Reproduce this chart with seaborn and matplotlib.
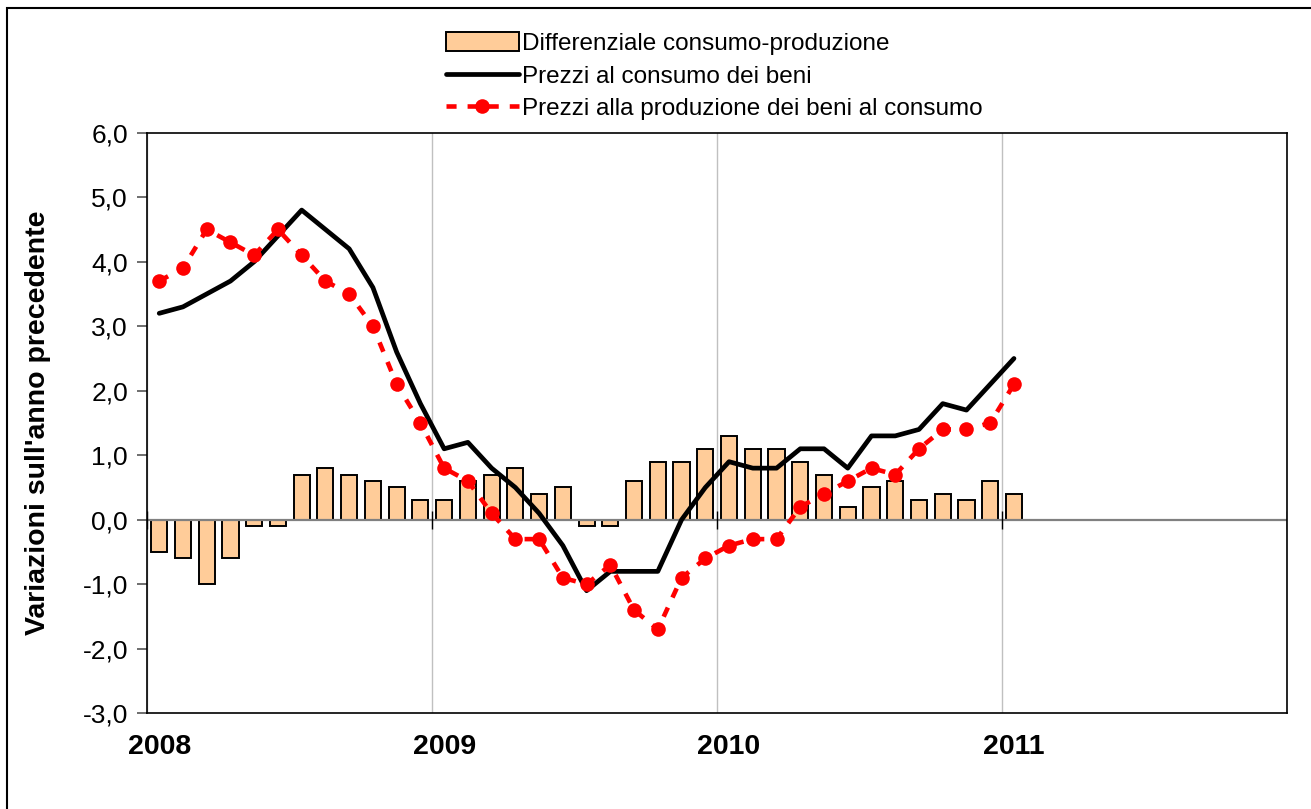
import pandas as pd
import matplotlib.pyplot as plt
import matplotlib.patches as mpatches
from matplotlib.lines import Line2D
from matplotlib.ticker import FuncFormatter
import seaborn as sns

sns.set_style("white")
plt.rcParams['font.family'] = ['Liberation Sans', 'DejaVu Sans']
plt.rcParams['text.color'] = 'black'
plt.rcParams['axes.labelcolor'] = 'black'
plt.rcParams['xtick.color'] = 'black'
plt.rcParams['ytick.color'] = 'black'

# Monthly data, Jan 2008 - Jan 2011
months = pd.date_range("2008-01-01", periods=37, freq="MS")
consumo = [3.2, 3.3, 3.5, 3.7, 4.0, 4.4, 4.8, 4.5, 4.2, 3.6, 2.6, 1.8,
           1.1, 1.2, 0.8, 0.5, 0.1, -0.4, -1.1, -0.8, -0.8, -0.8, 0.0, 0.5,
           0.9, 0.8, 0.8, 1.1, 1.1, 0.8, 1.3, 1.3, 1.4, 1.8, 1.7, 2.1,
           2.5]
produzione = [3.7, 3.9, 4.5, 4.3, 4.1, 4.5, 4.1, 3.7, 3.5, 3.0, 2.1, 1.5,
              0.8, 0.6, 0.1, -0.3, -0.3, -0.9, -1.0, -0.7, -1.4, -1.7, -0.9, -0.6,
              -0.4, -0.3, -0.3, 0.2, 0.4, 0.6, 0.8, 0.7, 1.1, 1.4, 1.4, 1.5,
              2.1]
differenziale = [-0.5, -0.6, -1.0, -0.6, -0.1, -0.1, 0.7, 0.8, 0.7, 0.6, 0.5, 0.3,
                 0.3, 0.6, 0.7, 0.8, 0.4, 0.5, -0.1, -0.1, 0.6, 0.9, 0.9, 1.1,
                 1.3, 1.1, 1.1, 0.9, 0.7, 0.2, 0.5, 0.6, 0.3, 0.4, 0.3, 0.6,
                 0.4]
years = [2008, 2009, 2010, 2011, 2012]
label_years = [2008, 2009, 2010, 2011]

# month centre on a fractional-year axis
xpos = months.year + (months.month - 0.5) / 12
df = pd.DataFrame({"x": xpos, "cons": consumo, "prod": produzione, "diff": differenziale})

fig = plt.figure(figsize=(13.11, 8.09), dpi=100)
ax = fig.add_axes([0.1124, 0.1183, 0.8693, 0.7177])

sns.barplot(data=df, x="x", y="diff", native_scale=True, width=0.68,
            color="#FFCC99", saturation=1, edgecolor="black", linewidth=1.4,
            ax=ax, zorder=2)
sns.lineplot(data=df, x="x", y="cons", color="black", linewidth=3.4, ax=ax, zorder=3)
sns.lineplot(data=df, x="x", y="prod", color="#FF0000", linewidth=3.3,
             linestyle=(0, (2.2, 2.4)), marker="o", markersize=10.5,
             markeredgewidth=0, ax=ax, zorder=4)

ax.axhline(0, color="#808080", linewidth=1.6, zorder=2.5)
ax.vlines(years, -0.14, 0.14, color="black", linewidth=1.0, zorder=2.6)

ax.set_yticks(range(-3, 7))
ax.yaxis.set_major_formatter(FuncFormatter(lambda v, p: f"{v:.1f}".replace(".", ",")))
ax.tick_params(axis="y", direction="out", length=7, width=1.2, color="#555555",
               labelsize=19, pad=7, left=True)

ax.set_xticks([y + 0.5 / 12 for y in label_years])
ax.set_xticklabels([str(y) for y in label_years], fontsize=20.5, fontweight="bold")
ax.tick_params(axis="x", length=0, pad=15)
ax.set_xticks(years, minor=True)
ax.tick_params(axis="x", which="minor", length=0)
ax.grid(True, which="minor", axis="x", color="#C0C0C0", linewidth=1.0)
ax.grid(False, which="major")
ax.set_axisbelow(True)
ax.set_xlim(2008, 2012)
ax.set_ylim(-3, 6)

for s in ax.spines.values():
    s.set_visible(True)
    s.set_color("black")
    s.set_linewidth(1.2)

ax.set_xlabel("")
ax.set_ylabel("Variazioni sull'anno precedente", fontsize=20.5, fontweight="bold")
ax.yaxis.set_label_coords(-0.0845, 0.5)

handles = [
    mpatches.Patch(facecolor="#FFCC99", edgecolor="black", linewidth=1.4,
                   label="Differenziale consumo-produzione"),
    Line2D([], [], color="black", linewidth=3.4, label="Prezzi al consumo dei beni"),
    Line2D([], [], color="#FF0000", linewidth=3.3, linestyle=(0, (2.2, 2.4)),
           marker="o", markersize=10.5, markeredgewidth=0,
           label="Prezzi alla produzione dei beni al consumo"),
]
fig.legend(handles=handles, loc="upper left", bbox_to_anchor=(0.3325, 0.972),
           frameon=False, fontsize=17.5, handlelength=3.0, handleheight=0.8,
           handletextpad=0.15, labelspacing=0.40, borderaxespad=0)

# outer chart border
fig.patches.append(mpatches.Rectangle((7 / 1311, -0.1), 1.2, (809 - 8) / 809 + 0.1,
                                      transform=fig.transFigure, fill=False,
                                      edgecolor="black", linewidth=1.5))

plt.savefig("out.png", dpi=100)
